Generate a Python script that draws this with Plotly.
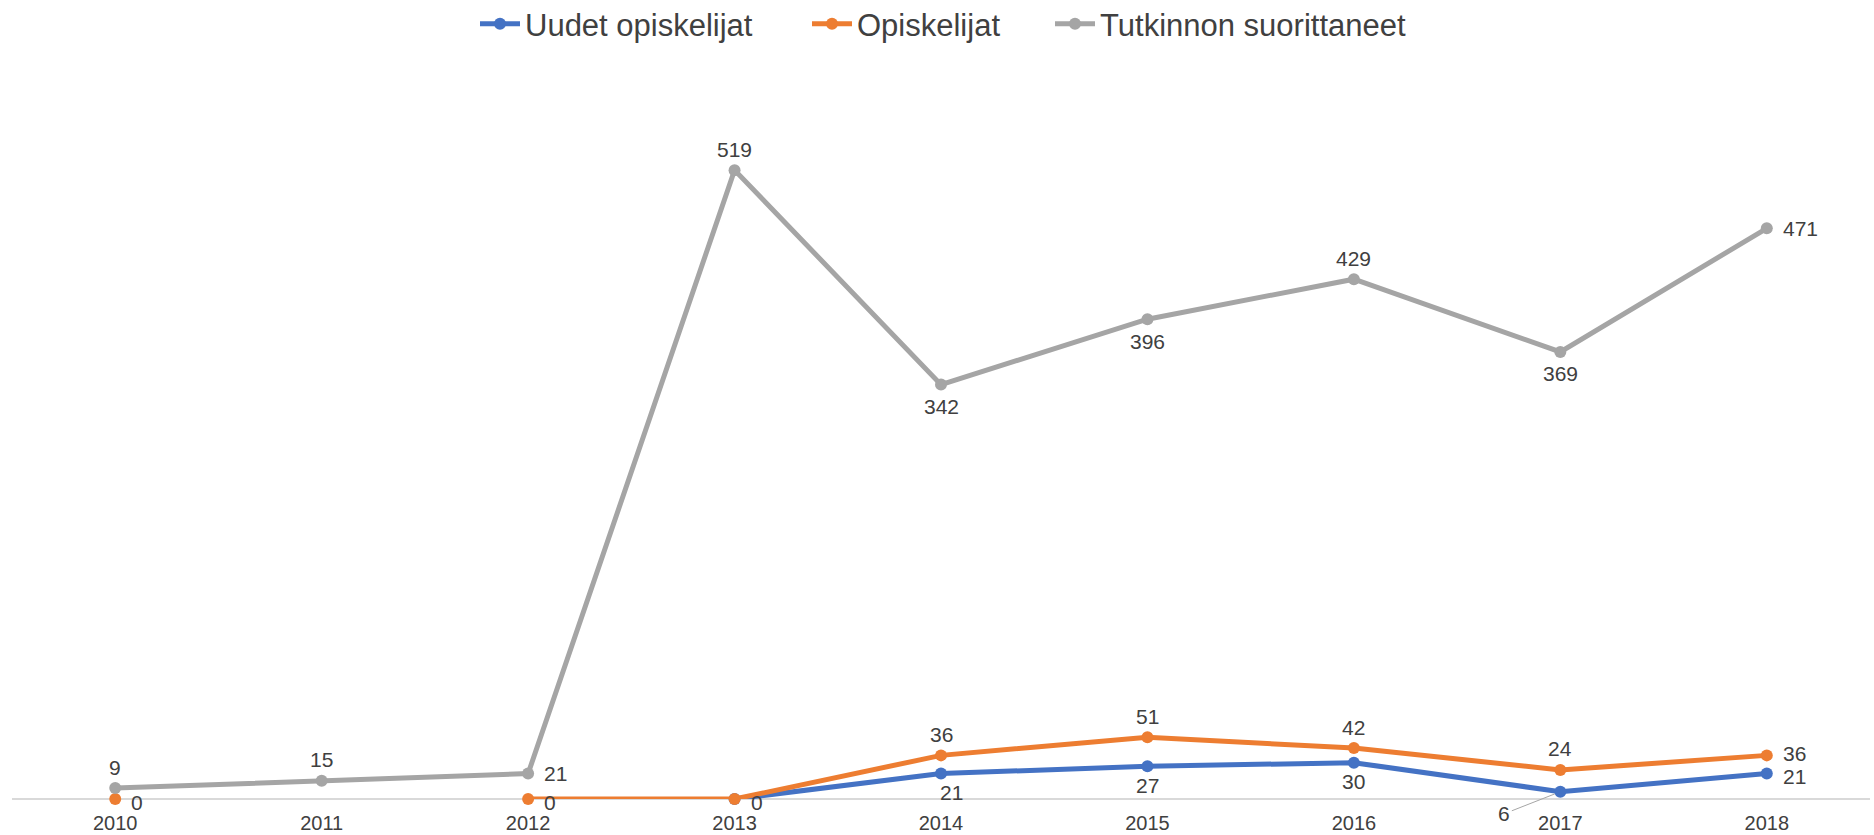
import plotly.graph_objects as go

years = ["2010", "2011", "2012", "2013", "2014", "2015", "2016", "2017", "2018"]
uudet = [None, None, None, 0, 21, 27, 30, 6, 21]
opiskelijat = [0, None, 0, 0, 36, 51, 42, 24, 36]
tutkinnon = [9, 15, 21, 519, 342, 396, 429, 369, 471]

names = ["Uudet opiskelijat", "Opiskelijat", "Tutkinnon suorittaneet"]
colors = ["#4472C4", "#ED7D31", "#A5A5A5"]

# label placement codes: t=above, b=below, r=right, l=leader line, -=none
uudet_pos = ["-", "-", "-", "-", "b", "b", "b", "l", "r"]
opis_pos = ["r", "-", "r", "r", "t", "t", "t", "t", "r"]
tutk_pos = ["t", "t", "r", "t", "b", "b", "t", "b", "r"]

TXT = "#404040"
FONT = "Liberation Sans, Arial, sans-serif"
W, H = 1874, 835
LBL = 21

fig = go.Figure()
legend_x = [475, 807, 1050]
lkeys = ["legend", "legend2", "legend3"]
for name, vals, col, lk in zip(names, [uudet, opiskelijat, tutkinnon], colors, lkeys):
    fig.add_trace(go.Scatter(
        x=years, y=vals, name=name, mode="lines+markers",
        line=dict(color=col, width=5),
        marker=dict(color=col, size=12),
        connectgaps=False, cliponaxis=False, legend=lk,
    ))

shift = {"t": dict(yshift=21, xanchor="center"),
         "b": dict(yshift=-22, xanchor="center"),
         "r": dict(xshift=14, xanchor="left")}
last = len(years) - 1
for vals, pos, kind in [(uudet, uudet_pos, "blue"), (opiskelijat, opis_pos, "orange"),
                        (tutkinnon, tutk_pos, "gray")]:
    for i, (v, p) in enumerate(zip(vals, pos)):
        if v is None or p == "-":
            continue
        if p == "l":
            fig.add_annotation(x=i, y=v, text=str(v), showarrow=True, arrowhead=0,
                               arrowwidth=1, arrowcolor="#A6A6A6", ax=-56, ay=22,
                               standoff=6, font=dict(size=LBL, color=TXT, family=FONT))
            continue
        kw = dict(shift[p])
        if kind == "blue" and p == "b":
            kw["yshift"] = -19
            if i == 4:
                kw["xshift"] = 10
        if p == "r" and v == 0:
            kw["yshift"] = -3
        if p == "r" and i == last and kind == "blue":
            kw["yshift"] = -3
        if p == "r" and i == last and kind == "orange":
            kw["yshift"] = 2
        fig.add_annotation(x=i, y=v, text=str(v), showarrow=False, yanchor="middle",
                           font=dict(size=LBL, color=TXT, family=FONT), **kw)

layout_legends = {}
for lk, lx in zip(lkeys, legend_x):
    layout_legends[lk] = dict(orientation="h", x=lx / W, xanchor="left", xref="container",
                              y=1 - 24 / H, yref="container", yanchor="middle",
                              font=dict(size=31, color=TXT, family=FONT),
                              itemwidth=40, bgcolor="rgba(0,0,0,0)")

fig.update_layout(
    width=W, height=H,
    margin=dict(l=12, r=4, t=72, b=36, autoexpand=False),
    paper_bgcolor="white", plot_bgcolor="white",
    font=dict(family=FONT, color=TXT),
    showlegend=True,
    xaxis=dict(type="category", range=[-0.5, 8.5], showgrid=False, zeroline=False,
               showline=False, ticks="", tickfont=dict(size=20, color=TXT, family=FONT),
               ticklabelstandoff=10, automargin=False),
    yaxis=dict(range=[0, 600], showgrid=False, zeroline=True, zerolinecolor="#D9D9D9",
               zerolinewidth=1.5, showticklabels=False, ticks="", automargin=False),
    **layout_legends,
)

fig.write_html("out.html", post_script="document.body.style.margin='0';",
               config={"displayModeBar": False})
